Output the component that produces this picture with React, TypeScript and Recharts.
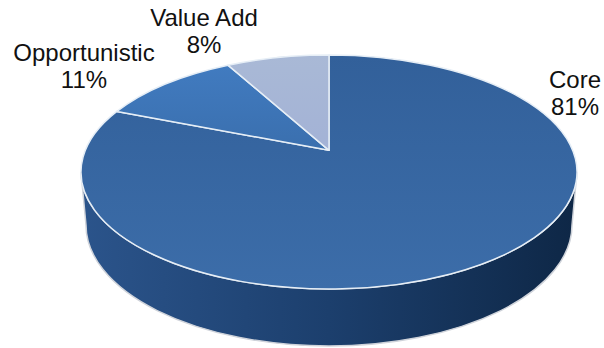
import React from "react";
import {PieChart, Pie} from "recharts";

const categories = ["Core", "Opportunistic", "Value Add"];
const shares = [81, 11, 8];

const sliceFills = ["url(#coreTop)", "url(#oppTop)", "url(#valueTop)"];
// where each two-line label sits: centre x, first baseline y
const labelSpots = [[575, 88], [84, 61], [204, 26]];

const pieData = categories.map((name, i) => ({name, value: shares[i]}));

const SQUASH = 117 / 248;   // tilt of the top face
const APEX = 0.185;         // how far perspective pushes the pie centre up the ellipse
const DEPTH_RX = 243 / 248;
const DEPTH_RY = 121;
const DEPTH_Y = 53;

// perspective projection of a point on the pie's rim onto the top ellipse
const rimPoint = (cx: number, cy: number, r: number, angle: number) => {
    const a = angle * Math.PI / 180;
    const x = Math.cos(a), y = Math.sin(a);
    const d = 1 + APEX * y;
    const px = x * Math.sqrt(1 - APEX * APEX) / d;
    const py = (y + APEX) / d;
    return {x: cx + r * px, y: cy - r * SQUASH * py, phi: Math.atan2(py, px) * 180 / Math.PI};
};

const PieSide = ({cx, cy, r}: any) => {
    const ry = r * SQUASH;
    const brx = r * DEPTH_RX;
    const by = cy + DEPTH_Y;
    const d = `M${cx + r} ${cy} A${r} ${ry} 0 0 1 ${cx - r} ${cy} L${cx - brx} ${by} A${brx} ${DEPTH_RY} 0 0 0 ${cx + brx} ${by} Z`;
    return <path d={d} fill="url(#pieSide)" stroke="#cfd3da" strokeWidth={1.5}/>;
};

const Slice = (props: any) => {
    const {cx, cy, outerRadius: r, startAngle, endAngle, index} = props;
    const a = rimPoint(cx, cy, r, startAngle);
    const b = rimPoint(cx, cy, r, endAngle);
    const apexY = cy - r * SQUASH * APEX;
    const span = (a.phi - b.phi + 720) % 360;
    const d = `M${cx} ${apexY} L${a.x} ${a.y} A${r} ${r * SQUASH} 0 ${span > 180 ? 1 : 0} 1 ${b.x} ${b.y} Z`;
    return (
        <g>
            {index === 0 && <PieSide cx={cx} cy={cy} r={r}/>}
            <path d={d} fill={sliceFills[index]} stroke="#e6eef6" strokeWidth={1.5} strokeLinejoin="round"/>
        </g>
    );
};

const SliceLabel = (props: any) => {
    const [x, y] = labelSpots[props.index];
    return (
        <text textAnchor="middle" fontFamily="Liberation Sans" fontSize={24} fill="#111">
            <tspan x={x} y={y}>{props.name}</tspan>
            <tspan x={x} y={y + 27}>{props.value}%</tspan>
        </text>
    );
};

export default function App() {
    return (
        <div style={{position: "absolute", left: 0, top: 0}}>
            <PieChart width={604} height={348} margin={{top: 0, right: 0, bottom: 0, left: 0}}>
                <defs>
                    <linearGradient id="coreTop" x1="0" y1="0" x2="0" y2="1">
                        <stop offset="0" stopColor="#32609a"/>
                        <stop offset="1" stopColor="#3c6da9"/>
                    </linearGradient>
                    <linearGradient id="oppTop" x1="0" y1="0" x2="0" y2="1">
                        <stop offset="0" stopColor="#417bc0"/>
                        <stop offset="1" stopColor="#3a6fae"/>
                    </linearGradient>
                    <linearGradient id="valueTop" x1="0" y1="0" x2="0" y2="1">
                        <stop offset="0" stopColor="#a9b9d6"/>
                        <stop offset="1" stopColor="#a3b2d6"/>
                    </linearGradient>
                    <linearGradient id="pieSide" x1="0" y1="0" x2="1" y2="0">
                        <stop offset="0" stopColor="#2b548b"/>
                        <stop offset="0.5" stopColor="#1c3f6d"/>
                        <stop offset="1" stopColor="#0e2746"/>
                    </linearGradient>
                </defs>
                <Pie data={pieData} dataKey="value" nameKey="name" cx={329} cy={172} outerRadius={248}
                    startAngle={90} endAngle={-270} paddingAngle={0} stroke="none"
                    shape={Slice} label={SliceLabel} labelLine={false} isAnimationActive={false}/>
            </PieChart>
        </div>
    );
}
